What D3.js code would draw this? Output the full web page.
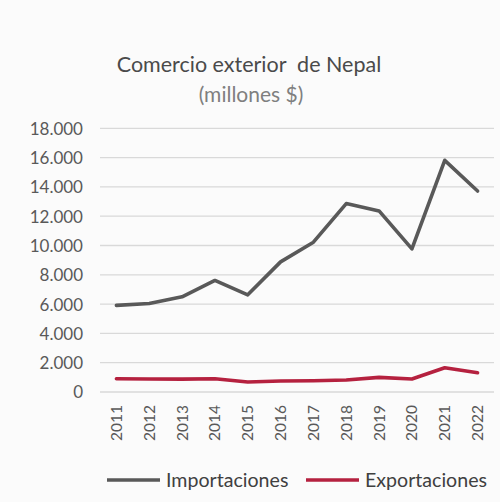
<!DOCTYPE html>
<html><head><meta charset="utf-8">
<script src="https://cdn.jsdelivr.net/npm/d3@7"></script>
<style>body{margin:0;background:#fff}svg{display:block}text{font-family:Lato,"Open Sans",sans-serif}</style>
</head><body>
<svg id="c" width="503" height="502"></svg>
<script>
const years = ["2011","2012","2013","2014","2015","2016","2017","2018","2019","2020","2021","2022"];
const importaciones = [5910,6046,6497,7614,6633,8882,10225,12863,12359,9768,15815,13722];
const exportaciones = [907,890,880,900,682,750,770,818,1000,886,1656,1316];
const yTicks = [0,2000,4000,6000,8000,10000,12000,14000,16000,18000];
const seriesNames = ["Importaciones","Exportaciones"];
const colors = ["#595959","#b5213f"];

const svg = d3.select("#c");
svg.append("rect").attr("width",500).attr("height",502).attr("fill","#fbfbfb");

const x = d3.scaleBand().domain(years).range([100,494]);
const y = d3.scaleLinear().domain([0,18000]).range([392,128.3]);
const fmt = v => d3.format(",")(v).replace(/,/g,".");

// gridlines
svg.append("g").selectAll("line").data(yTicks).join("line")
  .attr("x1",100).attr("x2",494).attr("y1",d=>y(d)).attr("y2",d=>y(d))
  .attr("stroke","#d9d9d9").attr("stroke-width",1.3);

// y axis
const ya = svg.append("g").attr("transform","translate(83,0)")
  .call(d3.axisLeft(y).tickValues(yTicks).tickSize(0).tickPadding(0).tickFormat(fmt));
ya.select(".domain").remove();
ya.selectAll("text").attr("font-size",17).attr("fill","#595959").attr("font-family","Lato").attr("dy","0.35em");

// x axis
const xa = svg.append("g").attr("transform","translate(0,405)")
  .call(d3.axisBottom(x).tickSize(0).tickPadding(0));
xa.select(".domain").remove();
xa.selectAll("text").attr("font-size",15.5).attr("fill","#595959").attr("font-family","Lato")
  .attr("text-anchor","end").attr("transform","rotate(-90)").attr("x",0).attr("y",0).attr("dy","0.35em");

// lines
const line = d3.line().x((d,i)=>x(years[i])+x.bandwidth()/2).y(d=>y(d));
[importaciones, exportaciones].forEach((s,i)=>{
  svg.append("path").datum(s).attr("d",line).attr("fill","none")
    .attr("stroke",colors[i]).attr("stroke-width",3.6).attr("stroke-linejoin","round").attr("stroke-linecap","round");
});

// title
svg.append("text").attr("x",249).attr("y",72).attr("text-anchor","middle")
  .attr("font-size",21.5).attr("fill","#4a4a4a").attr("xml:space","preserve")
  .text("Comercio exterior  de Nepal");
svg.append("text").attr("x",251).attr("y",102).attr("text-anchor","middle")
  .attr("font-size",21).attr("fill","#7f7f7f").text("(millones $)");

// legend
const legX = [107, 306];
seriesNames.forEach((n,i)=>{
  svg.append("line").attr("x1",legX[i]).attr("x2",legX[i]+53).attr("y1",480).attr("y2",480)
    .attr("stroke",colors[i]).attr("stroke-width",3.6);
  svg.append("text").attr("x",legX[i]+59).attr("y",480).attr("dy","0.35em")
    .attr("font-size",19.6).attr("fill","#404040").text(n);
});
</script>
</body></html>
